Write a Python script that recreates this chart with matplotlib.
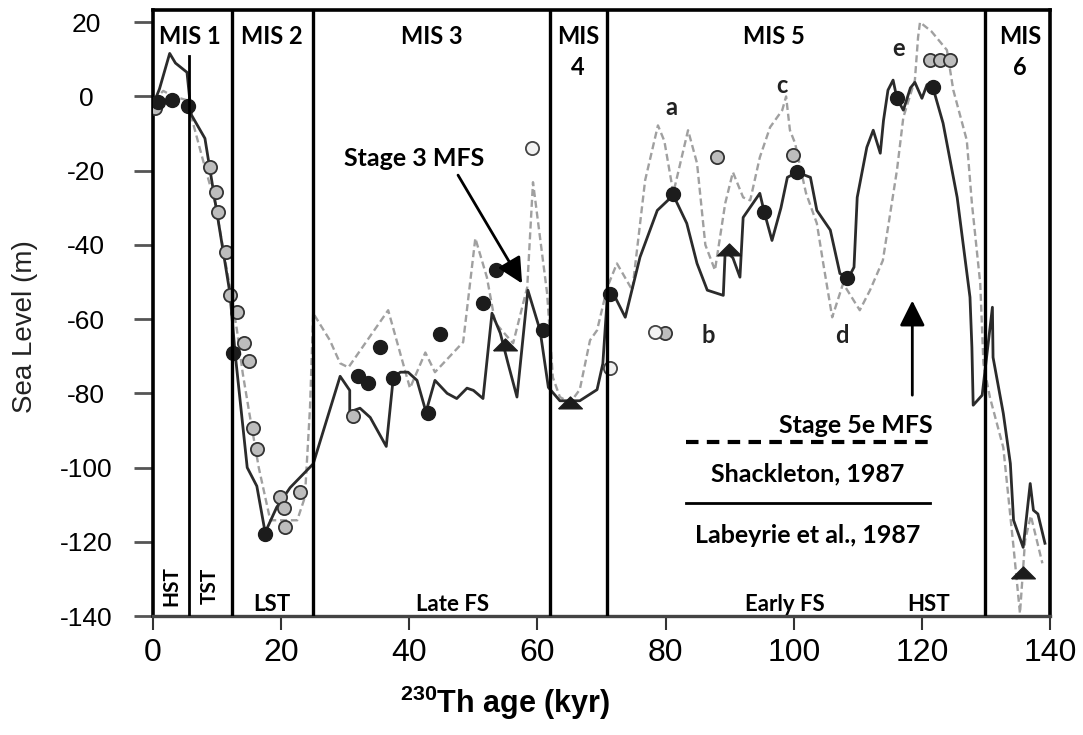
import matplotlib
matplotlib.use("Agg")
import matplotlib.pyplot as plt

# Labeyrie et al., 1987 (solid curve): age (kyr), sea level (m)
lab_age = [0.3, 1.0, 2.6, 3.5, 5.3, 5.8, 6.0, 8.1, 12.0, 12.8, 14.7, 16.2, 17.5, 19.3,
           21.4, 25.0, 29.2, 30.7, 30.7, 32.3, 33.9, 36.4, 37.5, 38.6, 39.8, 41.2, 42.6,
           44.0, 45.9, 47.4, 49.0, 50.0, 51.5, 52.9, 54.2, 55.4, 56.8, 58.5, 60.4, 61.7,
           63.5, 66.6, 69.3, 70.2, 70.9, 71.8, 73.7, 76.0, 78.7, 81.2, 83.3, 84.9, 86.5,
           89.0, 89.3, 90.5, 91.6, 92.1, 94.7, 95.4, 96.6, 98.0, 99.0, 100.5, 102.6, 103.6,
           105.7, 107.2, 108.5, 109.4, 109.9, 111.4, 112.4, 113.5, 114.0, 114.7, 115.5,
           116.1, 117.1, 118.2, 118.9, 120.0, 120.8, 121.7, 123.3, 125.5, 127.5, 127.8,
           128.0, 129.4, 131.0, 131.1, 132.7, 133.8, 134.3, 135.8, 136.9, 137.4, 138.1,
           139.2]
lab_sl = [-1.0, 2.0, 11.6, 9.0, 6.5, -2.0, -5.0, -11.3, -53.0, -69.0, -100.0, -105.0,
          -117.5, -110.7, -105.4, -99.0, -75.4, -79.2, -85.0, -84.0, -86.5, -94.3, -75.7,
          -74.3, -74.3, -76.5, -85.0, -76.5, -80.0, -81.4, -78.6, -79.2, -81.4, -58.4,
          -63.8, -71.9, -81.0, -52.2, -63.0, -78.4, -82.0, -82.0, -79.0, -72.0, -54.0,
          -53.0, -59.5, -43.3, -30.7, -26.6, -34.2, -45.0, -52.2, -53.6, -41.5, -43.5,
          -48.7, -32.6, -26.1, -31.2, -38.8, -30.0, -21.8, -20.4, -21.8, -30.7, -36.0,
          -47.7, -49.0, -46.0, -27.2, -13.7, -9.1, -15.3, -6.5, 1.7, 4.4, -0.5, -3.7, 2.3,
          3.8, -0.5, 3.2, 2.5, -7.2, -27.2, -54.1, -67.6, -83.2, -80.5, -56.8, -70.3,
          -85.4, -98.9, -114.2, -121.5, -104.3, -111.5, -112.5, -120.4]

# Shackleton, 1987 (dashed curve)
sha_age = [0.0, 1.0, 1.6, 3.2, 5.3, 6.0, 7.8, 9.7, 12.0, 13.1, 14.0, 15.0, 16.5, 18.3,
           20.3, 22.5, 23.7, 24.5, 25.0, 27.6, 29.2, 30.5, 36.7, 40.1, 42.5, 44.0, 48.4,
           50.3, 52.1, 53.4, 56.2, 58.4, 59.3, 61.5, 62.4, 63.5, 65.1, 66.6, 68.2, 69.3,
           70.9, 72.4, 74.8, 76.8, 78.8, 79.8, 81.2, 83.5, 84.9, 86.2, 87.7, 89.3, 90.5,
           92.1, 93.2, 94.7, 96.3, 98.2, 98.8, 99.4, 100.2, 101.9, 103.6, 104.6, 106.0,
           107.7, 110.3, 111.9, 113.9, 116.1, 117.1, 118.9, 119.4, 119.7, 121.5, 123.9,
           124.9, 127.0, 127.8, 129.1, 129.6, 130.6, 132.7, 134.3, 135.3, 136.1, 137.0,
           138.8]
sha_sl = [-1.0, 0.5, 1.5, 0.0, -1.0, -5.6, -17.2, -28.8, -51.4, -63.0, -74.6, -85.0,
          -100.0, -114.2, -114.2, -114.2, -108.0, -83.8, -58.4, -65.7, -71.9, -73.0,
          -57.6, -78.6, -69.0, -74.3, -66.2, -38.2, -48.7, -61.0, -66.5, -51.4, -23.1,
          -53.0, -75.7, -81.0, -82.5, -79.0, -65.7, -63.0, -51.4, -45.0, -52.2, -22.6,
          -7.8, -12.0, -26.0, -9.1, -18.0, -40.0, -46.8, -28.8, -20.4, -27.2, -28.0,
          -16.4, -8.3, -3.7, 0.0, -9.1, -12.6, -26.0, -34.2, -45.0, -59.5, -50.4, -57.6,
          -52.2, -44.2, -19.9, -5.6, 4.4, 16.0, 20.0, 17.5, 12.5, 1.7, -11.8, -28.8,
          -50.4, -72.0, -81.0, -94.6, -121.5, -139.3, -119.6, -113.0, -125.8]

# dated samples
dark_age = [0.8, 3.0, 5.5, 12.5, 17.5, 32.0, 33.6, 35.4, 37.5, 42.9, 44.8, 51.5, 53.5,
            60.9, 71.3, 81.2, 95.4, 100.5, 108.3, 116.1, 121.7]
dark_sl = [-1.5, -1.0, -2.5, -69.2, -118.0, -75.2, -77.3, -67.6, -76.0, -85.4, -64.1,
           -55.7, -46.8, -63.0, -53.2, -26.4, -31.2, -20.4, -49.0, -0.5, 2.5]
grey_age = [0.3, 8.9, 9.8, 10.1, 11.4, 12.0, 13.1, 14.2, 15.0, 15.6, 16.2, 19.8, 20.4,
            20.6, 22.9, 31.2, 79.9, 88.0, 99.9, 121.3, 122.8, 124.4]
grey_sl = [-3.0, -19.1, -25.8, -31.2, -42.0, -53.6, -58.2, -66.5, -71.4, -89.4, -95.1,
           -108.0, -111.0, -116.1, -106.7, -86.2, -63.8, -16.4, -15.8, 9.8, 9.8, 9.8]
open_age = [59.2, 71.3, 78.4]
open_sl = [-14.0, -73.3, -63.6]
tri_age = [55.0, 65.1, 89.9, 135.8]
tri_sl = [-67.1, -82.7, -41.5, -128.5]

# stage boundaries (kyr) and labels
mis_bounds = [12.3, 25.0, 62.0, 70.9, 129.9]
hst_tst_bound = 5.6
mis_names = ["MIS 1", "MIS 2", "MIS 3", "MIS\n4", "MIS 5", "MIS\n6"]
mis_pos = [5.8, 18.6, 43.5, 66.3, 96.9, 135.3]
peak_names = ["a", "b", "c", "d", "e"]
peak_age = [80.9, 86.6, 98.2, 107.5, 116.3]
peak_sl = [-2.9, -64.4, 3.0, -64.4, 13.0]
tract_names = ["LST", "Late FS", "Early FS", "HST"]
tract_pos = [18.6, 46.7, 98.6, 121.0]

plt.rcParams['font.family'] = ['Lato', 'DejaVu Sans']
plt.rcParams['axes.unicode_minus'] = False
plt.rcParams['mathtext.fontset'] = 'custom'
plt.rcParams['mathtext.bf'] = 'Liberation Sans:bold'
plt.rcParams['mathtext.rm'] = 'Liberation Sans'

fig = plt.figure(figsize=(10.83, 7.35), dpi=100)
ax = fig.add_axes([0.1413, 0.1619, 0.8283, 0.8245])
ax.set_xlim(0, 140)
ax.set_ylim(-140, 23.3)

ax.plot(sha_age, sha_sl, color='#a0a0a0', lw=1.7, ls=(0, (3, 1.6)), zorder=2)
ax.plot(lab_age, lab_sl, color='#2b2b2b', lw=2, zorder=3)

ax.plot(grey_age, grey_sl, 'o', ms=9.5, mfc='#bdbdbd', mec='#333333', mew=1.3, zorder=4)
ax.plot(open_age, open_sl, 'o', ms=9.5, mfc='#f2f2f2', mec='#444444', mew=1.3, zorder=4)
ax.plot(dark_age, dark_sl, 'o', ms=10, mfc='#1c1c1c', mec='#1c1c1c', zorder=5)
tri = [(-1, -0.45), (1, -0.45), (0, 0.55), (-1, -0.45)]
ax.plot(tri_age, tri_sl, ls='none', marker=tri, ms=17, mfc='#1c1c1c', mec='#1c1c1c', zorder=5)

# stage boundaries
for b in mis_bounds:
    ax.axvline(b, color='black', lw=2.4, zorder=6)
ax.plot([hst_tst_bound, hst_tst_bound], [-140, 11], color='black', lw=2, zorder=6)

for name, x in zip(mis_names, mis_pos):
    ax.text(x, 19.3, name, ha='center', va='top', fontsize=17, fontweight='bold',
            linespacing=1.45, zorder=7)
for name, x, y in zip(peak_names, peak_age, peak_sl):
    ax.text(x, y, name, ha='center', va='center', fontsize=17, fontweight='bold',
            color='#222222', zorder=7)
for name, x in zip(tract_names, tract_pos):
    ax.text(x, -137.0, name, ha='center', va='center', fontsize=16, fontweight='bold',
            zorder=7)
ax.text(2.8, -132, "HST", rotation=90, ha='center', va='center', fontsize=15,
        fontweight='bold', zorder=7)
ax.text(8.8, -132, "TST", rotation=90, ha='center', va='center', fontsize=15,
        fontweight='bold', zorder=7)

# maximum flooding surface arrows
arrow = dict(arrowstyle='-|>,head_length=0.7,head_width=0.35', mutation_scale=22,
             lw=2, color='black', shrinkA=0, shrinkB=0)
ax.annotate("", xy=(57.6, -50.4), xytext=(47.6, -21.2), arrowprops=arrow, zorder=8)
ax.text(40.7, -16.7, "Stage 3 MFS", ha='center', va='center', fontsize=18,
        fontweight='bold', zorder=8)
ax.annotate("", xy=(118.5, -55.0), xytext=(118.5, -80.5), arrowprops=arrow, zorder=8)
ax.text(109.7, -88.6, "Stage 5e MFS", ha='center', va='center', fontsize=18,
        fontweight='bold', zorder=8)

# legend
ax.plot([83.2, 121.3], [-93.2, -93.2], color='black', lw=3, ls=(0, (3, 2)), zorder=8)
ax.text(102.2, -101.6, "Shackleton, 1987", ha='center', va='center', fontsize=18,
        fontweight='bold', zorder=8)
ax.plot([83.2, 121.3], [-109.6, -109.6], color='black', lw=2, zorder=8)
ax.text(102.2, -118.3, "Labeyrie et al., 1987", ha='center', va='center', fontsize=18,
        fontweight='bold', zorder=8)

for side in ['left', 'right', 'top']:
    ax.spines[side].set_linewidth(2.6)
ax.spines['bottom'].set_linewidth(2.4)
ax.spines['bottom'].set_color('#444444')

ax.set_xticks(range(0, 141, 20))
ax.set_yticks(range(-140, 21, 20))
ax.tick_params(axis='x', direction='out', length=10, width=1.5, pad=6,
               labelsize=23, color='#333333')
ax.tick_params(axis='y', direction='out', length=14, width=2, pad=34,
               labelsize=19, color='#555555')
for lab in ax.get_xticklabels() + ax.get_yticklabels():
    lab.set_fontfamily('Liberation Sans')
for lab in ax.get_yticklabels():
    lab.set_ha('center')

ax.set_ylabel("Sea Level (m)", fontsize=20, family='Liberation Sans', color='#222222')
ax.yaxis.set_label_coords(-0.143, 0.477)
ax.yaxis.label.set_va('center')
ax.set_xlabel(r"$\mathbf{^{230}}$Th age (kyr)", fontsize=22, fontweight='bold',
              family='Liberation Sans')
ax.xaxis.set_label_coords(0.392, -0.143)
ax.xaxis.label.set_va('center')

fig.savefig("out.png", dpi=100)
